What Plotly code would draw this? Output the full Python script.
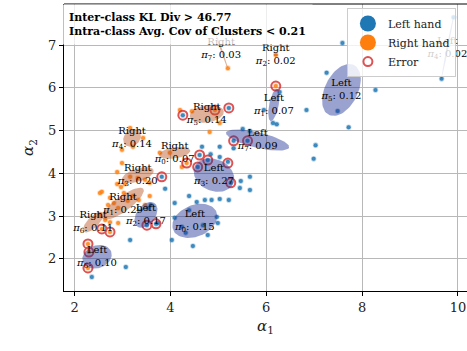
import numpy as np
import plotly.graph_objects as go

# Summary statistics shown in the corner box
kl_div_min = 46.77
avg_cov_max = 0.21

# Samples: left-hand class (alpha_1, alpha_2)
left_x = [9.91, 9.66, 7.59, 7.26, 8.28, 7.49, 6.84, 7.72, 7.03, 6.99, 6.28, 5.95, 6.14, 6.22,
          5.51, 5.66, 5.32, 5.32, 5.61, 4.66, 4.84, 5.03, 4.61, 4.78, 5.20, 4.57, 5.26, 5.45,
          5.66, 5.66, 5.47, 3.89, 4.39, 4.72, 4.86, 5.03, 5.22, 4.55, 4.97, 4.99, 4.68, 4.39,
          4.09, 4.24, 4.78, 3.59, 3.53, 3.74, 3.16, 3.07, 2.36, 4.03, 3.82, 5.22, 4.26, 3.51,
          3.70, 4.32, 5.03, 4.09, 4.47]
left_y = [7.65, 6.21, 7.05, 6.35, 5.95, 5.46, 5.48, 5.08, 4.66, 4.34, 5.90, 5.48, 5.18, 5.15,
          5.04, 4.99, 4.59, 4.76, 4.76, 4.62, 4.45, 4.38, 4.43, 4.31, 4.27, 4.15, 3.78, 3.66,
          3.61, 3.92, 3.82, 3.64, 3.47, 3.38, 3.38, 3.40, 3.38, 3.33, 2.98, 2.84, 2.79, 3.14,
          2.96, 2.75, 2.56, 3.26, 3.19, 2.84, 2.44, 1.81, 1.58, 2.44, 3.92, 5.53, 5.36, 2.79,
          2.82, 2.61, 4.62, 3.31, 2.30]

# Samples: right-hand class
right_x = [4.93, 5.20, 6.20, 6.20, 4.20, 4.93, 5.03, 4.82, 4.45,
           3.16, 3.43, 2.99, 3.22,
           4.24, 3.78, 3.99, 4.34,
           2.99, 2.89, 3.16, 3.32, 3.47, 2.89, 2.57, 3.05, 3.57,
           2.97, 3.03, 3.22, 3.34, 3.57, 2.70, 2.82, 3.11, 3.47, 2.53, 2.74, 2.91,
           2.64, 2.74, 2.51, 2.91, 2.57, 2.74, 2.28, 2.30, 2.28]
right_y = [7.35, 6.46, 6.77, 6.04, 5.48, 5.48, 5.18, 4.97, 5.45,
           5.06, 4.83, 4.55, 4.62,
           4.15, 4.48, 4.48, 4.24,
           4.24, 4.03, 3.92, 3.89, 3.85, 3.75, 3.57, 3.75, 3.78,
           3.68, 3.54, 3.47, 3.38, 3.47, 3.26, 3.31, 3.36, 3.26, 3.54, 3.43, 3.19,
           2.91, 2.86, 3.03, 2.84, 2.70, 2.63, 2.35, 2.16, 1.79]

# Misassigned samples
err_x = [6.20, 5.22, 4.26, 4.93, 5.32, 5.61, 4.61, 4.78, 5.20, 4.57, 5.26, 4.34, 3.82,
         3.51, 3.70, 2.57, 2.74, 2.28, 2.30, 2.28]
err_y = [6.04, 5.53, 5.36, 5.48, 4.76, 4.76, 4.43, 4.31, 4.24, 4.15, 3.78, 4.24, 3.92,
         2.79, 2.82, 2.70, 2.63, 2.35, 2.16, 1.79]

# Mixture components (weight, mean, semi-axes, orientation in degrees)
left_w = [0.15, 0.07, 0.17, 0.27, 0.02, 0.12, 0.10, 0.09]
left_mx = [4.51, 6.16, 3.49, 4.91, 9.78, 7.57, 2.47, 5.82]
left_my = [2.89, 5.60, 3.03, 3.96, 6.93, 5.95, 2.05, 4.78]
left_sa = [0.50, 0.38, 0.33, 0.45, 0.75, 0.64, 0.32, 0.68]
left_sb = [0.36, 0.10, 0.20, 0.36, 0.02, 0.35, 0.26, 0.18]
left_ang = [30, 80, 60, -35, 80, 68, 30, -15]

right_w = [0.07, 0.29, 0.02, 0.20, 0.14, 0.14, 0.11, 0.03]
right_mx = [4.09, 3.01, 6.20, 3.32, 3.20, 4.76, 2.39, 5.06]
right_my = [4.48, 3.29, 6.77, 3.96, 4.83, 5.39, 2.86, 6.90]
right_sa = [0.33, 0.55, 0.05, 0.35, 0.22, 0.36, 0.30, 0.46]
right_sb = [0.13, 0.17, 0.03, 0.15, 0.17, 0.20, 0.12, 0.02]
right_ang = [10, 40, 0, 20, 60, 10, 50, -73]

x_ticks = [2, 4, 6, 8, 10]
y_ticks = [2, 3, 4, 5, 6, 7]

SERIF = "DejaVu Serif"
BLUE = "#1f77b4"
ORANGE = "#ff7f0e"
RED = "#d62728"


def ellipse(mx, my, a, b, ang, n=72):
    t = np.linspace(0, 2 * np.pi, n)
    th = np.deg2rad(ang)
    ex = mx + a * np.cos(t) * np.cos(th) - b * np.sin(t) * np.sin(th)
    ey = my + a * np.cos(t) * np.sin(th) + b * np.sin(t) * np.cos(th)
    return ex, ey


fig = go.Figure()

# legend-only entries with large symbols
fig.add_trace(go.Scatter(x=[None], y=[None], mode="markers", name="Left hand",
                         marker=dict(size=16, color=BLUE)))
fig.add_trace(go.Scatter(x=[None], y=[None], mode="markers", name="Right hand",
                         marker=dict(size=16, color=ORANGE)))

# sample points
fig.add_trace(go.Scatter(x=left_x, y=left_y, mode="markers", showlegend=False,
                         marker=dict(size=4, color="rgba(31,119,180,0.85)",
                                     line=dict(width=1.6, color="rgba(31,119,180,0.3)"))))
fig.add_trace(go.Scatter(x=right_x, y=right_y, mode="markers", showlegend=False,
                         marker=dict(size=4, color="rgba(255,127,14,0.85)",
                                     line=dict(width=1.6, color="rgba(255,127,14,0.3)"))))
fig.add_trace(go.Scatter(x=err_x, y=err_y, mode="markers", name="Error",
                         marker=dict(size=9, symbol="circle-open", color=RED,
                                     line=dict(width=2, color=RED)), opacity=0.8))

# component ellipses
for mx, my, a, b, ang in zip(left_mx, left_my, left_sa, left_sb, left_ang):
    ex, ey = ellipse(mx, my, a, b, ang)
    fig.add_trace(go.Scatter(x=ex, y=ey, mode="lines", fill="toself", showlegend=False,
                             line=dict(width=0), fillcolor="rgba(30,50,150,0.45)",
                             hoverinfo="skip"))
for mx, my, a, b, ang in zip(right_mx, right_my, right_sa, right_sb, right_ang):
    ex, ey = ellipse(mx, my, a, b, ang)
    fig.add_trace(go.Scatter(x=ex, y=ey, mode="lines", fill="toself", showlegend=False,
                             line=dict(width=0), fillcolor="rgba(185,80,30,0.45)",
                             hoverinfo="skip"))

# component labels
lab_x = left_mx + right_mx
lab_y = left_my + right_my
lab_t = [f"Left<br><i>π</i><sub>{i}</sub>: {w:.2f}" for i, w in enumerate(left_w)] + \
        [f"Right<br><i>π</i><sub>{i}</sub>: {w:.2f}" for i, w in enumerate(right_w)]
fig.add_trace(go.Scatter(x=lab_x, y=lab_y, mode="text", text=lab_t, showlegend=False,
                         textposition="middle center",
                         textfont=dict(family=SERIF, size=10, color="black"),
                         hoverinfo="skip"))

axis_common = dict(showgrid=True, gridcolor="#b8b8b8", gridwidth=1.3, zeroline=False,
                   showline=True, linecolor="black", linewidth=1, ticks="outside",
                   ticklen=4, tickcolor="black", tickfont=dict(family=SERIF, size=13, color="#222"))

fig.update_layout(
    width=467, height=351,
    margin=dict(l=64, r=0, t=4, b=60),
    paper_bgcolor="white", plot_bgcolor="white",
    xaxis=dict(range=[1.78, 10.19], tickvals=x_ticks,
               title=dict(text="<i>α</i><sub>1</sub>", font=dict(family=SERIF, size=15, color="#222"),
                          standoff=6),
               **axis_common),
    yaxis=dict(range=[1.25, 7.96], tickvals=y_ticks,
               title=dict(text="<i>α</i><sub>2</sub>", font=dict(family=SERIF, size=15, color="#222"),
                          standoff=10),
               **axis_common),
    legend=dict(x=0.702, y=0.986, xanchor="left", yanchor="top",
                bgcolor="rgba(255,255,255,0.8)", bordercolor="#cccccc", borderwidth=1,
                font=dict(family=SERIF, size=11, color="#222"), itemsizing="trace"),
    shapes=[dict(type="line", xref="paper", yref="paper", x0=0, x1=1, y0=1, y1=1,
                 line=dict(color="black", width=1))],
    annotations=[dict(
        xref="paper", yref="paper", x=-0.005, y=1.0, xanchor="left", yanchor="top",
        showarrow=False, align="left", bgcolor="rgba(255,255,255,0.75)", borderpad=6,
        text=f"<b>Inter-class KL Div &gt; {kl_div_min}</b><br>"
             f"<b>Intra-class Avg. Cov of Clusters &lt; {avg_cov_max}</b>",
        font=dict(family=SERIF, size=11, color="black"))],
)

fig.write_html("out.html")
